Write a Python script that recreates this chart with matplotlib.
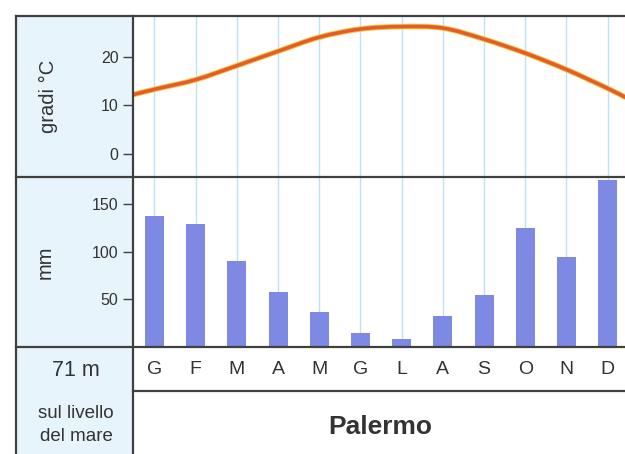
import matplotlib.pyplot as plt
from matplotlib.lines import Line2D
from matplotlib.patches import Rectangle, PathPatch
from matplotlib.path import Path
import matplotlib.patheffects as pe

plt.rcParams['font.family'] = ['Liberation Sans', 'DejaVu Sans']

months = ['G', 'F', 'M', 'A', 'M', 'G', 'L', 'A', 'S', 'O', 'N', 'D']
# temperature curve read at each month line, plus where it meets the panel edges
temp = [13.3, 15.3, 18.2, 21.2, 24.1, 25.8, 26.3, 26.0, 23.7, 20.8, 17.4, 13.5]
temp_left, temp_right = 12.2, 11.7
rain = [138, 129, 90, 58, 37, 15, 8, 33, 55, 125, 95, 176]

W, H = 625, 454
dark = '#404040'
txt = '#333333'
bg = '#e8f4fb'
grid_c = '#bfe2f2'
bar_c = '#7d89e2'


def fx(px):
    return px / W


def fy(py):
    return 1 - py / H


fig = plt.figure(figsize=(W / 100, H / 100), dpi=100)
fig.patch.set_facecolor('white')
fig.patches.append(Rectangle((fx(16), 0), fx(133) - fx(16), fy(16), transform=fig.transFigure,
                             facecolor=bg, edgecolor='none', zorder=-1))

L, R = 133, 625
ax_t = fig.add_axes([fx(L), fy(176.7), fx(R) - fx(L), fy(16) - fy(176.7)])
ax_b = fig.add_axes([fx(L), fy(347), fx(R) - fx(L), fy(176.7) - fy(347)])

xlo, xhi = -0.52, 11.42
x = list(range(12))

for ax in (ax_t, ax_b):
    ax.set_xlim(xlo, xhi)
    ax.set_xticks(x)
    ax.grid(axis='x', color=grid_c, lw=1)
    ax.set_axisbelow(True)
    for s in ax.spines.values():
        s.set_visible(False)
    ax.tick_params(axis='y', direction='out', length=7, width=1, color=dark,
                   labelsize=11.5, labelcolor=txt, pad=3.5)

ax_t.tick_params(axis='x', length=0, labelbottom=False)
ax_t.set_ylim(-4.8, 28.5)
ax_t.set_yticks([0, 10, 20])

# smooth temperature line through the monthly readings (Catmull-Rom -> bezier)
px = [xlo] + x + [xhi]
py = [temp_left] + temp + [temp_right]
verts = [(px[0], py[0])]
codes = [Path.MOVETO]
n = len(px)
for i in range(n - 1):
    i0, i3 = max(i - 1, 0), min(i + 2, n - 1)
    h = px[i + 1] - px[i]
    m1 = (py[i + 1] - py[i0]) / (px[i + 1] - px[i0])
    m2 = (py[i3] - py[i]) / (px[i3] - px[i])
    verts += [(px[i] + h / 3, py[i] + m1 * h / 3),
              (px[i + 1] - h / 3, py[i + 1] - m2 * h / 3),
              (px[i + 1], py[i + 1])]
    codes += [Path.CURVE4] * 3
curve = PathPatch(Path(verts, codes), facecolor='none', edgecolor='#e35d2c', lw=2.6,
                  capstyle='round', zorder=3)
curve.set_path_effects([pe.Stroke(linewidth=4.0, foreground='#f4c63c'), pe.Normal()])
ax_t.add_patch(curve)

ax_b.bar(x, rain, width=0.46, color=bar_c, zorder=2)
ax_b.set_ylim(0, 179)
ax_b.set_yticks([50, 100, 150])
ax_b.set_xticks(x, months)
ax_b.tick_params(axis='x', length=0, pad=10, labelsize=14, labelcolor=txt)

# frame lines
lw = 1.6
segs = [
    ((16, 625), (16, 16)),
    ((16, 16), (16, 454)),
    ((133, 133), (16, 454)),
    ((16, 625), (176.7, 176.7)),
    ((16, 625), (347, 347)),
    ((133, 625), (390.7, 390.7)),
]
for xs, ys in segs:
    fig.add_artist(Line2D([fx(xs[0]), fx(xs[1])], [fy(ys[0]), fy(ys[1])],
                          transform=fig.transFigure, color=dark, lw=lw, zorder=5))

fig.text(fx(48), fy(96), 'gradi °C', rotation=90, ha='center', va='center', fontsize=14.5, color=txt)
fig.text(fx(45), fy(262), 'mm', rotation=90, ha='center', va='center', fontsize=14.5, color=txt)
fig.text(fx(76), fy(370), '71 m', ha='center', va='center', fontsize=15.5, color=txt)
fig.text(fx(76), fy(425), 'sul livello\ndel mare', ha='center', va='center', fontsize=13.5,
         color=txt, linespacing=1.4)
fig.text(fx(380), fy(427), 'Palermo', ha='center', va='center', fontsize=19, fontweight='bold',
         color=txt)

fig.savefig('out.png', dpi=100)
